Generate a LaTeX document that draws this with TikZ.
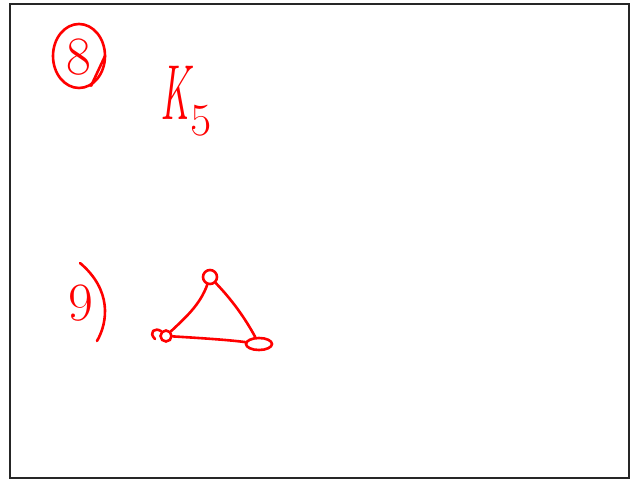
\documentclass[tikz,border=0pt]{standalone}
\usepackage{tikz}
\usetikzlibrary{positioning,shapes.geometric}
\definecolor{inkred}{HTML}{FF0000}

\begin{document}
\begin{tikzpicture}[x=1pt, y=-1pt,
    inkStyle/.style={draw=inkred, line width=2.6pt, line cap=round, line join=round},
    labelStyle/.style={text=inkred, inner sep=0pt, font=\fontsize{54}{58}\selectfont},
    vertexStyle/.style={circle, draw=inkred, line width=2.6pt, inner sep=0pt, minimum size=14pt},
    edgeStyle/.style={inkStyle}
]
    \useasboundingbox (0,0) rectangle (637,481);
    \draw[line width=2.5pt, draw=black!85] (10,4) rectangle (629,478);

    % problem 8
    \node[labelStyle] (eight) at (79,57) {8};
    \node[ellipse, draw=inkred, line width=2.6pt, minimum width=52pt, minimum height=64pt] (ring) at (79,56) {};
    \draw[inkStyle] (ring.-68) -- ++(14,-30);
    \node[labelStyle, font=\fontsize{78}{82}\selectfont] (kfive) at (186,101)
        {\scalebox{0.5}[1]{\itshape K}\raisebox{-16pt}{\fontsize{46}{50}\selectfont 5}};

    % problem 9
    \node[labelStyle] (nine) at (81,303) {9};
    \coordinate (parTop) at (80,263);
    \coordinate (parBot) at (97,341);
    \draw[inkStyle] (parTop) .. controls (112,290) and (108,322) .. (parBot);

    \node[vertexStyle] (top) at (210,277) {};
    \node[vertexStyle, minimum size=11pt] (left) at (166,336) {};
    \node[ellipse, draw=inkred, line width=2.6pt, minimum width=26pt, minimum height=12pt, inner sep=0pt] (right) at (259,344) {};
    \draw[inkStyle] (left.north west) .. controls (155,327) and (148,332) .. (155,339);

    \draw[edgeStyle] (top) .. controls (200,305) and (185,318) .. (left);
    \draw[edgeStyle] (top) .. controls (232,300) and (245,318) .. (right);
    \draw[edgeStyle] (left) .. controls (200,338) and (230,340) .. (right);
\end{tikzpicture}
\end{document}
